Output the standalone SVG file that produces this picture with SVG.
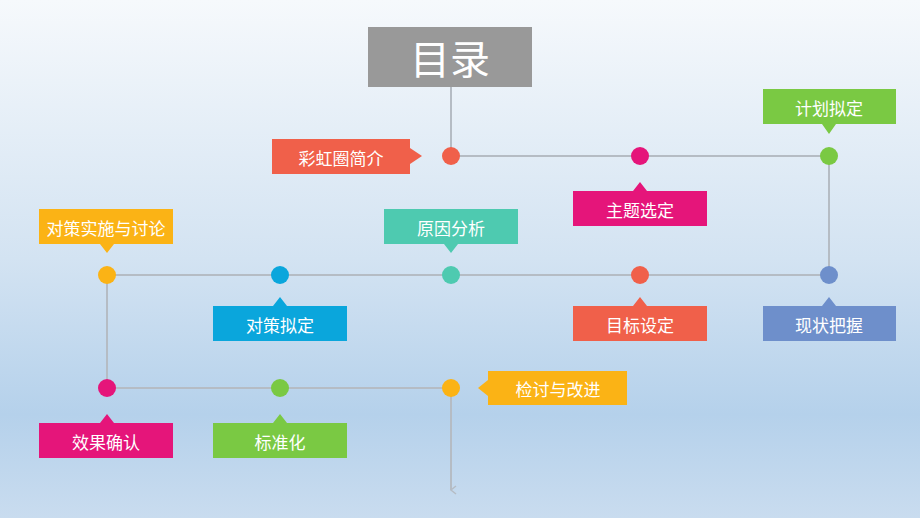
<svg xmlns="http://www.w3.org/2000/svg" width="920" height="518" viewBox="0 0 920 518">
<defs>
<linearGradient id="bg" x1="0" y1="0" x2="0" y2="1">
<stop offset="0" stop-color="#f6f9fc"/>
<stop offset="0.5" stop-color="#d3e3f2"/>
<stop offset="0.8" stop-color="#b5d1eb"/>
<stop offset="1" stop-color="#c9dcef"/>
</linearGradient>
<marker id="arr" markerWidth="10" markerHeight="10" refX="5" refY="8" orient="auto" markerUnits="userSpaceOnUse">
<path d="M1,3 L5,8 L9,3" fill="none" stroke="#b5bcc4" stroke-width="1.5"/>
</marker>
</defs>
<style>
.ln{stroke:#b5bcc4;stroke-width:2;fill:none}
.t{font-family:"Noto Sans CJK SC","Liberation Sans",sans-serif;font-size:17px;fill:#fff;text-anchor:middle;dominant-baseline:central}
</style>
<rect width="920" height="518" fill="url(#bg)"/>
<g id="connectors">
<path class="ln" d="M451,87 V156 H829 V275 H107 V388 H451"/>
<path class="ln" d="M451,388 V490" marker-end="url(#arr)"/>
</g>
<g id="title"><rect x="368" y="27" width="164" height="60" fill="#999999"/><text class="t" x="450" y="57" style="font-size:40px">目录</text></g>
<g id="dots">
<circle cx="451" cy="156" r="9" fill="#f0604a"/>
<circle cx="640" cy="156" r="9" fill="#e5157a"/>
<circle cx="829" cy="156" r="9" fill="#7ac943"/>
<circle cx="107" cy="275" r="9" fill="#fbb315"/>
<circle cx="280" cy="275" r="9" fill="#0aa6dc"/>
<circle cx="451" cy="275" r="9" fill="#4ecab0"/>
<circle cx="640" cy="275" r="9" fill="#f0604a"/>
<circle cx="829" cy="275" r="9" fill="#6e8fcb"/>
<circle cx="107" cy="388" r="9" fill="#e5157a"/>
<circle cx="280" cy="388" r="9" fill="#7ac943"/>
<circle cx="451" cy="388" r="9" fill="#fbb315"/>
</g>
<g id="n1"><path d="M272,139 H410 V148 L422,156 L410,164 V174 H272 Z" fill="#f0604a"/><text class="t" x="341" y="157">彩虹圈简介</text></g>
<g id="n2"><path d="M573,191 H633 L640,182 L647,191 H707 V226 H573 Z" fill="#e5157a"/><text class="t" x="640" y="209">主题选定</text></g>
<g id="n3"><path d="M763,89 H896 V124 H836 L829,134 L822,124 H763 Z" fill="#7ac943"/><text class="t" x="829" y="107">计划拟定</text></g>
<g id="n4"><path d="M763,306 H822 L829,297 L836,306 H896 V341 H763 Z" fill="#6e8fcb"/><text class="t" x="829" y="324">现状把握</text></g>
<g id="n5"><path d="M573,306 H633 L640,297 L647,306 H707 V341 H573 Z" fill="#f0604a"/><text class="t" x="640" y="324">目标设定</text></g>
<g id="n6"><path d="M384,209 H518 V244 H458 L451,253 L444,244 H384 Z" fill="#4ecab0"/><text class="t" x="451" y="227">原因分析</text></g>
<g id="n7"><path d="M213,306 H273 L280,297 L287,306 H347 V341 H213 Z" fill="#0aa6dc"/><text class="t" x="280" y="324">对策拟定</text></g>
<g id="n8"><path d="M39,209 H173 V244 H114 L107,253 L100,244 H39 Z" fill="#fbb315"/><text class="t" x="106" y="227">对策实施与讨论</text></g>
<g id="n9"><path d="M39,423 H100 L107,414 L114,423 H173 V458 H39 Z" fill="#e5157a"/><text class="t" x="106" y="441">效果确认</text></g>
<g id="n10"><path d="M213,423 H273 L280,414 L287,423 H347 V458 H213 Z" fill="#7ac943"/><text class="t" x="280" y="441">标准化</text></g>
<g id="n11"><path d="M488,371 H627 V405 H488 V396 L478,388 L488,380 Z" fill="#fbb315"/><text class="t" x="558" y="388">检讨与改进</text></g>
</svg>
